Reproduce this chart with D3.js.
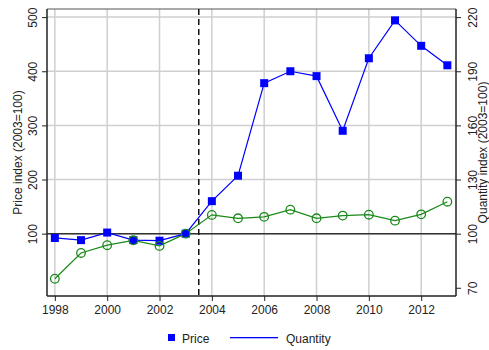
<!DOCTYPE html>
<html>
<head>
<meta charset="utf-8">
<script src="https://cdn.jsdelivr.net/npm/d3@7"></script>
<style>
  body { margin: 0; background: #fff; }
  text { font-family: "Liberation Sans", Arial, sans-serif; fill: #222; }
</style>
</head>
<body>
<div id="viz"></div>
<script>
var years = [1998, 1999, 2000, 2001, 2002, 2003, 2004, 2005, 2006, 2007, 2008, 2009, 2010, 2011, 2012, 2013];
var price = [92, 88, 102, 88, 87, 100, 160, 207, 378, 400, 391, 290, 424, 494, 447, 411];
var quantity = [75, 89.3, 93.6, 96.3, 93.2, 100, 110.4, 108.5, 109.3, 113.3, 108.5, 110, 110.5, 107.2, 110.7, 117.7];
var xTicks = [1998, 2000, 2002, 2004, 2006, 2008, 2010, 2012];
var priceTicks = [100, 200, 300, 400, 500];
var qtyTicks = [70, 100, 130, 160, 190, 220];
var breakYear = 2003.5;

var width = 489,
    height = 350,
    pLeft = 47, pRight = 456, pTop = 9, pBottom = 296;

var svg = d3.select('#viz').append('svg')
    .attr('width', width)
    .attr('height', height);

var x = d3.scaleLinear().domain([1997.7, 2013.33]).range([pLeft, pRight]);
var yP = d3.scaleLinear().domain([-15.2, 515]).range([pBottom, pTop]);
// right axis shares the 100 baseline: 30 quantity points = 100 price points
var yQ = d3.scaleLinear().domain([100 - 115.2 * 0.3, 100 + 415 * 0.3]).range([pBottom, pTop]);

// grid
svg.append('g').selectAll('line').data(xTicks).enter().append('line')
    .attr('x1', d => x(d)).attr('x2', d => x(d))
    .attr('y1', pTop).attr('y2', pBottom)
    .attr('stroke', '#cfcfcf').attr('stroke-width', 1.5);
svg.append('g').selectAll('line').data(priceTicks).enter().append('line')
    .attr('x1', pLeft).attr('x2', pRight)
    .attr('y1', d => yP(d)).attr('y2', d => yP(d))
    .attr('stroke', '#cfcfcf').attr('stroke-width', 1.5);

// frame top
svg.append('line').attr('x1', pLeft).attr('x2', pRight).attr('y1', pTop).attr('y2', pTop)
    .attr('stroke', '#555').attr('stroke-width', 1);

// baseline at 100
svg.append('line')
    .attr('x1', pLeft).attr('x2', pRight)
    .attr('y1', yP(100)).attr('y2', yP(100))
    .attr('stroke', '#333').attr('stroke-width', 1.5);

// dashed break
svg.append('line')
    .attr('x1', x(breakYear)).attr('x2', x(breakYear))
    .attr('y1', pTop).attr('y2', pBottom)
    .attr('stroke', '#111').attr('stroke-width', 1.5)
    .attr('stroke-dasharray', '6,4');

// axes
function styleAxis(g) {
    g.selectAll('.domain').attr('stroke', '#222').attr('stroke-width', 1.5);
    g.selectAll('.tick line').attr('stroke', '#222').attr('stroke-width', 1);
    g.selectAll('text').style('font-size', '12px').attr('fill', '#222');
}

var xAxis = svg.append('g').attr('transform', 'translate(0,' + pBottom + ')')
    .call(d3.axisBottom(x).tickValues(xTicks).tickFormat(d3.format('d')).tickSize(5).tickSizeOuter(0).tickPadding(4));
styleAxis(xAxis);
xAxis.select('.domain').attr('d', 'M' + pLeft + ',0H' + pRight);

var yAxisL = svg.append('g').attr('transform', 'translate(' + pLeft + ',0)')
    .call(d3.axisLeft(yP).tickValues(priceTicks).tickSize(5).tickSizeOuter(0));
styleAxis(yAxisL);
yAxisL.select('.domain').attr('d', 'M0,' + pTop + 'V' + pBottom);
yAxisL.selectAll('.tick text')
    .attr('x', 0).attr('dy', null)
    .attr('transform', 'translate(-10,0) rotate(-90)')
    .attr('text-anchor', 'middle');

var yAxisR = svg.append('g').attr('transform', 'translate(' + pRight + ',0)')
    .call(d3.axisRight(yQ).tickValues(qtyTicks).tickSize(5).tickSizeOuter(0));
styleAxis(yAxisR);
yAxisR.select('.domain').attr('d', 'M0,' + pTop + 'V' + pBottom);
yAxisR.selectAll('.tick text')
    .attr('x', 0).attr('dy', null)
    .attr('transform', 'translate(21,0) rotate(-90)')
    .attr('text-anchor', 'middle');

// axis titles
svg.append('text')
    .attr('transform', 'translate(22,' + ((pTop + pBottom) / 2) + ') rotate(-90)')
    .attr('text-anchor', 'middle')
    .style('font-size', '12px')
    .text('Price index (2003=100)');
svg.append('text')
    .attr('transform', 'translate(487,' + ((pTop + pBottom) / 2) + ') rotate(-90)')
    .attr('text-anchor', 'middle')
    .style('font-size', '12px')
    .text('Quantity index (2003=100)');

// series
var greenC = '#1a8a1a';
var lineP = d3.line().x((d, i) => x(years[i])).y(d => yP(d));
var lineQ = d3.line().x((d, i) => x(years[i])).y(d => yQ(d));

svg.append('path').datum(quantity).attr('d', lineQ)
    .attr('fill', 'none').attr('stroke', greenC).attr('stroke-width', 1.2);
svg.append('path').datum(price).attr('d', lineP)
    .attr('fill', 'none').attr('stroke', '#0000ff').attr('stroke-width', 1.2);

svg.append('g').selectAll('rect').data(price).enter().append('rect')
    .attr('x', (d, i) => x(years[i]) - 4)
    .attr('y', d => yP(d) - 4)
    .attr('width', 8).attr('height', 8)
    .attr('fill', '#0000ff');

svg.append('g').selectAll('circle').data(quantity).enter().append('circle')
    .attr('cx', (d, i) => x(years[i]))
    .attr('cy', d => yQ(d))
    .attr('r', 4.3)
    .attr('fill', 'none').attr('stroke', greenC).attr('stroke-width', 1.3);

// legend
var lg = svg.append('g');
lg.append('rect').attr('x', 168).attr('y', 334).attr('width', 7).attr('height', 7).attr('fill', '#0000ff');
lg.append('text').attr('x', 182).attr('y', 342.5).style('font-size', '12px').text('Price');
lg.append('rect').attr('x', 230).attr('y', 337).attr('width', 48).attr('height', 1.3)
    .attr('fill', '#0000ff');
lg.append('text').attr('x', 286).attr('y', 342.5).style('font-size', '12px').text('Quantity');
</script>
</body>
</html>
